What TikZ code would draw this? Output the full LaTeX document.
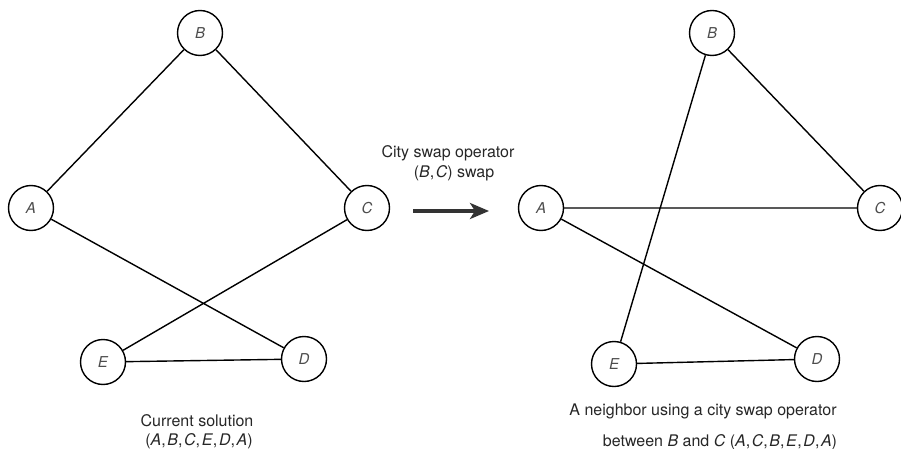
\documentclass[tikz,border=0pt]{standalone}
\usepackage{fontspec}
\setmainfont{TeX Gyre Heros}
\usetikzlibrary{arrows.meta}
\newcommand{\cs}{,\kern1.6pt}
\begin{document}
\begin{tikzpicture}[x=1pt,y=-1pt,
  city/.style={circle,draw,line width=1.4pt,minimum size=45pt,inner sep=0pt,
    font=\fontsize{15}{15}\selectfont\itshape,text=black!70},
  tour/.style={line width=1.4pt},
  caption/.style={font=\fontsize{16}{16}\selectfont,text=black!85,anchor=base}]
\useasboundingbox (0,0) rectangle (901,449);
% current tour
\node[city] (A1) at (31,208) {A};
\node[city] (B1) at (200,33) {B};
\node[city] (C1) at (367,208) {C};
\node[city] (E1) at (103,362) {E};
\node[city] (D1) at (304,359) {D};
\draw[tour] (A1) -- (B1) -- (C1) -- (E1) -- (D1) -- (A1);
% neighbouring tour
\node[city] (A2) at (541,208) {A};
\node[city] (B2) at (712,33) {B};
\node[city] (C2) at (880,208) {C};
\node[city] (E2) at (614,364) {E};
\node[city] (D2) at (817,359) {D};
\draw[tour] (A2) -- (C2) -- (B2) -- (E2) -- (D2) -- (A2);
% swap operator
\coordinate (s) at (413,211);
\coordinate (t) at (489,211);
\draw[line width=3.4pt,black!80,-{Stealth[length=19pt,width=16pt,inset=5pt]}] (s) -- (t);
\node[caption] (op1) at (448,158) {City swap operator};
\node[caption] (op2) at (454,177) {(\textit{B}\cs\textit{C}) swap};
% captions
\node[caption] (cap1) at (197,426) {Current solution};
\node[caption] (cap2) at (199,445) {(\textit{A}\cs\textit{B}\cs\textit{C}\cs\textit{E}\cs\textit{D}\cs\textit{A})};
\node[caption] (cap3) at (703,415) {A neighbor using a city swap operator};
\node[caption] (cap4) at (720,446) {between \textit{B} and \textit{C} (\textit{A}\cs\textit{C}\cs\textit{B}\cs\textit{E}\cs\textit{D}\cs\textit{A})};
\end{tikzpicture}
\end{document}
